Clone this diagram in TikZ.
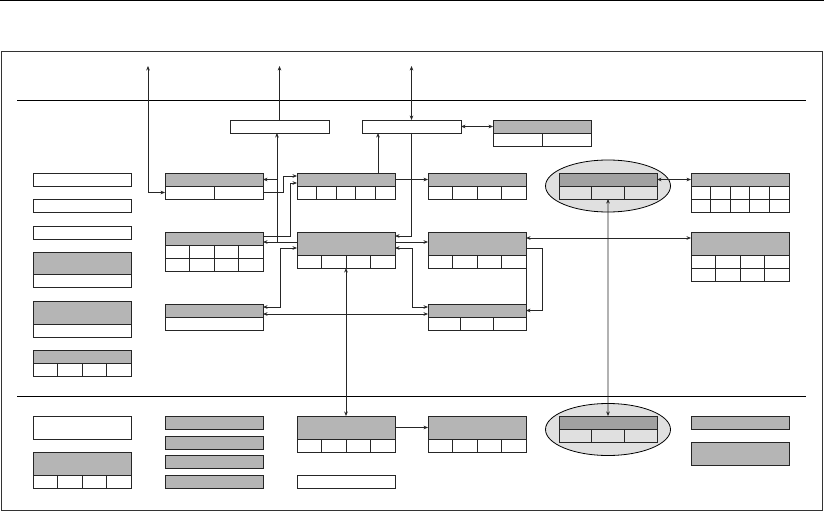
\documentclass[tikz,border=0pt]{standalone}
\usepackage{tikz}
\usetikzlibrary{arrows.meta,shapes.geometric,calc}
\definecolor{boxgray}{gray}{0.71}
\definecolor{hotgray}{gray}{0.63}
\definecolor{palegray}{gray}{0.88}
\tikzset{
  hdr/.style={rectangle,draw=black!85,fill=boxgray,line width=0.8pt,inner sep=0pt,outer sep=0pt,minimum width=98},% header strip
  cell/.style={rectangle,draw=black!85,fill=white,line width=0.8pt,inner sep=0pt,outer sep=0pt,minimum height=13},
  wbox/.style={hdr,fill=white},
  halo/.style={ellipse,draw=black,fill=palegray,line width=0.8pt,inner sep=0pt,minimum width=125,minimum height=52},
  wire/.style={black!85,line width=0.7pt},
  arr/.style={wire,-{Stealth[length=4.5pt,width=3.6pt]}},
  dbl/.style={wire,{Stealth[length=4.5pt,width=3.6pt]}-{Stealth[length=4.5pt,width=3.6pt]}},
  rule/.style={black,line width=0.8pt},
}
\newcommand{\recbox}[6]{% name, left x, top y, header height, cells per row, rows
  \node[hdr,minimum height=#4,anchor=north west] (#1) at (#2,#3) {};
  \foreach \ri in {1,...,#6}
    \foreach \ci in {1,...,#5}
      \node[cell,minimum width=98/#5,anchor=north west] (#1-\ri-\ci)
        at ({#2+(\ci-1)*98/#5},{#3+#4+(\ri-1)*13}) {};
}

\begin{document}
\begin{tikzpicture}[x=1pt,y=-1pt]
  \useasboundingbox (0,0) rectangle (824,513);
  \draw[rule] (0,0.5) -- (824,0.5);
  \draw[black!80,line width=0.9pt] (1,51) rectangle (822,510);
  \draw[rule] (17,100) -- (806,100);
  \draw[rule] (17,396) -- (806,396);
  % free ends of the outgoing links
  \coordinate (up1) at (148,66);
  \coordinate (up2) at (279.5,66);
  \coordinate (up3) at (411.5,66);
  % halos
  \node[halo] (halo1) at (608,186) {};
  \node[halo] (halo2) at (608,429.5) {};
  % upper row
  \node[wbox,minimum width=99,minimum height=13,anchor=north west] (portA) at (230,120) {};
  \node[wbox,minimum width=99,minimum height=13,anchor=north west] (portB) at (362,120) {};
  \recbox{ext}{493}{120}{13}{2}{1}
  % left column
  \node[wbox,minimum height=13,anchor=north west] (leg1) at (33,173) {};
  \node[wbox,minimum height=13,anchor=north west] (leg2) at (33,199) {};
  \node[wbox,minimum height=13,anchor=north west] (leg3) at (33,226) {};
  \recbox{leg4}{33}{252}{22}{1}{1}
  \recbox{leg5}{33}{301}{23}{1}{1}
  \recbox{leg6}{33}{350}{13}{4}{1}
  \node[wbox,minimum height=23,anchor=north west] (leg7) at (33,416) {};
  \recbox{leg8}{33}{452}{23}{4}{1}
  % second column
  \recbox{m1}{165}{173}{13}{2}{1}
  \recbox{m2}{165}{232}{13}{4}{2}
  \recbox{m3}{165}{304}{13}{1}{1}
  \foreach \y [count=\i] in {416,436,455,475}
    \node[hdr,minimum height=13,anchor=north west] (bar\i) at (165,\y) {};
  % third column
  \recbox{n1}{297}{173}{13}{5}{1}
  \recbox{n2}{297}{232}{23}{4}{1}
  \recbox{n3}{297}{416}{23}{4}{1}
  \node[wbox,minimum height=13,anchor=north west] (n4) at (297,475) {};
  % fourth column
  \recbox{p1}{428}{173}{13}{4}{1}
  \recbox{p2}{428}{232}{23}{4}{1}
  \recbox{p3}{428}{304}{13}{3}{1}
  \recbox{p4}{428}{416}{23}{4}{1}
  % boxes inside the halos
  \begin{scope}[hdr/.append style={fill=hotgray},cell/.append style={fill=palegray}]
    \recbox{e1}{559}{173}{13}{3}{1}
    \recbox{e2}{559}{416}{13}{3}{1}
  \end{scope}
  % right column
  \recbox{r1}{691}{173}{13}{5}{2}
  \recbox{r2}{691}{232}{23}{4}{2}
  \node[hdr,minimum height=13,anchor=north west] (r3) at (691,416) {};
  \node[hdr,minimum height=23,anchor=north west] (r4) at (691,442) {};
  % links
  \draw[dbl] (m1-1-1.west) -| (up1);
  \draw[arr] (portA.north) -- (up2);
  \draw[dbl] (portB.north) -- (up3);
  \draw[dbl] (portB.east) -- (ext.west);
  \draw[arr] ([xshift=-17pt]n1.north east) -- ++(0,-40);
  \draw[arr] (portB.south) |- ([yshift=7.5pt]n2.east);
  \draw[arr] ([yshift=1.5pt]n2.west) -- ([yshift=-3.5pt]m2.east) coordinate[pos=0.59] (j1);
  \draw[arr] (j1) -- (j1 |- portA.south);
  \draw[arr] (j1 |- m1.east) -- (m1.east);
  \draw[arr] (m1-1-2.east) -- ++(20,0) |- ([yshift=3.5pt]n1.west);
  \draw[arr] ([yshift=2.5pt]m2.east) -- ++(27,0) |- ([yshift=-3.5pt]n1.west);
  \draw[dbl] ([yshift=3.5pt]m3.east) -- ++(17,0) |- ([yshift=-4.5pt]n2.west);
  \draw[dbl] ([yshift=-3.5pt]m3.east) -- ([yshift=-3.5pt]p3.west);
  \draw[dbl] ([yshift=-4.5pt]n2.east) -- ++(17,0) |- ([yshift=3.5pt]p3.west);
  \draw[arr] ([yshift=1.5pt]n2.east) -- ([yshift=1.5pt]p2.west);
  \draw[arr] (n1.east) -- (p1.west);
  \draw[dbl] ([yshift=5.5pt]p2.east) -- ([yshift=5.5pt]r2.west);
  \draw[arr] ([yshift=-4.5pt]p2.east) -- ++(16,0) |- (p3.east);
  \draw[wire] (p2-1-4.south east) -- (p3.north east);
  \draw[dbl] (e1.east) -- (r1.west);
  \draw[dbl] (e1-1-2.south) -- (e2.north);
  \draw[dbl] (n2-1-2.south east) -- (n2-1-2.south east |- n3.north);
  \draw[arr] (n3.east) -- (p4.west);
\end{tikzpicture}
\end{document}
